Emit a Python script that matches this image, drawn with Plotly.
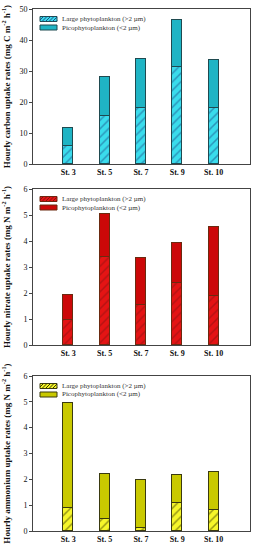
import plotly.graph_objects as go
from plotly.subplots import make_subplots

stations = ["St. 3", "St. 5", "St. 7", "St. 9", "St. 10"]

# carbon uptake (mg C m-2 h-1)
carbon_large = [5.9, 15.6, 18.2, 31.2, 18.2]
carbon_pico = [5.8, 12.4, 15.6, 15.1, 15.4]
# nitrate uptake (mg N m-2 h-1)
nitrate_large = [0.95, 3.37, 1.52, 2.37, 1.88]
nitrate_pico = [0.98, 1.67, 1.82, 1.55, 2.67]
# ammonium uptake (mg N m-2 h-1)
ammonium_large = [0.88, 0.46, 0.10, 1.07, 0.80]
ammonium_pico = [4.07, 1.74, 1.87, 1.08, 1.48]

lbl_large = "Large phytoplankton (>2 µm)"
lbl_pico = "Picophytoplankton (<2 µm)"

FONT = "Liberation Serif"
W, H = 256, 550
ML, MR, MT, MB = 33, 6, 9, 19
PW = W - ML - MR
PH = H - MT - MB

fig = make_subplots(rows=3, cols=1, vertical_spacing=0.05)

panels = [
    (carbon_large, carbon_pico, "#3adcec", "#1d4f8a", "#1fb4c4", "#1f4a50",
     "Hourly carbon uptake rates (mg C m<sup>-2</sup> h<sup>-1</sup>)", [0, 50], 10),
    (nitrate_large, nitrate_pico, "#e41414", "#8a1010", "#cc0808", "#6b2a10",
     "Hourly nitrate uptake rates (mg N m<sup>-2</sup> h<sup>-1</sup>)", [0, 6], 1),
    (ammonium_large, ammonium_pico, "#f6f62a", "#3a3a00", "#c9c900", "#3a3a10",
     "Hourly ammonium uptake rates (mg N m<sup>-2</sup> h<sup>-1</sup>)", [0, 6], 1),
]

# panel pixel extents (top, bottom) in figure px
pix = [(9, 164), (189, 345), (376, 531)]

for i, (large, pico, lc, hc, pc, oc, title, yr, dt) in enumerate(panels, start=1):
    fig.add_trace(go.Bar(
        x=list(range(len(stations))), y=large, name=lbl_large, width=0.28,
        marker=dict(color=lc, line=dict(color=oc, width=1),
                    pattern=dict(shape="/", fgcolor=hc, size=6, solidity=0.25)),
        showlegend=False,
    ), row=i, col=1)
    fig.add_trace(go.Bar(
        x=list(range(len(stations))), y=pico, name=lbl_pico, width=0.28,
        marker=dict(color=pc, line=dict(color=oc, width=1)),
        showlegend=False,
    ), row=i, col=1)
    fig.update_yaxes(row=i, col=1, range=yr, dtick=dt, showline=True, mirror=True,
                     linecolor="#444", linewidth=1, ticks="outside", ticklen=3,
                     tickcolor="#444", showgrid=False, zeroline=False, automargin=False,
                     tickfont=dict(family=FONT, size=8, color="#111"),
                     title=dict(text="<b>" + title + "</b>",
                                font=dict(family=FONT, size=9, color="#111")))
    fig.update_xaxes(row=i, col=1, range=[-0.97, 5.0], showline=True, mirror=True,
                     linecolor="#444", linewidth=1, showgrid=False, zeroline=False,
                     automargin=False,
                     tickmode="array", tickvals=list(range(len(stations))),
                     ticktext=["<b>" + s + "</b>" for s in stations],
                     tickfont=dict(family=FONT, size=8, color="#111"))

    # domain from pixel extents
    top, bot = pix[i - 1]
    key = "yaxis" if i == 1 else f"yaxis{i}"
    fig.layout[key].domain = [(H - MB - bot) / PH, (H - MB - top) / PH]

    # manual compact legend (px offsets inside the panel)
    ph = bot - top
    xr = f"x{'' if i == 1 else i} domain"
    yr_ = f"y{'' if i == 1 else i} domain"
    sx0, sx1 = 7, 24           # swatch px from plot left
    sh = 5                      # swatch height px
    rows = [(10, lc, True, lbl_large), (18.5, pc, False, lbl_pico)]
    for (cy, col, hatched, lbl) in rows:
        y0 = 1 - (cy + sh / 2) / ph
        y1 = 1 - (cy - sh / 2) / ph
        fig.add_shape(type="rect", xref=xr, yref=yr_, x0=sx0 / PW, x1=sx1 / PW,
                      y0=y0, y1=y1, fillcolor=col, line=dict(color=oc, width=1), layer="above")
        if hatched:
            path = ""
            step = 3.5
            k = -sh
            while k < (sx1 - sx0):
                ax, bx = k, k + sh
                ay, by = 0.0, sh
                if ax < 0:
                    ay = -ax; ax = 0
                if bx > sx1 - sx0:
                    by = sh - (bx - (sx1 - sx0)); bx = sx1 - sx0
                if bx > ax:
                    X0 = (sx0 + ax) / PW; X1 = (sx0 + bx) / PW
                    Y0 = y0 + ay / ph; Y1 = y0 + by / ph
                    path += f"M{X0:.5f},{Y0:.5f} L{X1:.5f},{Y1:.5f} "
                k += step
            fig.add_shape(type="path", xref=xr, yref=yr_, path=path,
                          line=dict(color=hc, width=1), layer="above")
        fig.add_annotation(xref=xr, yref=yr_, x=(sx1 + 3) / PW, y=1 - cy / ph,
                           text=lbl, showarrow=False, xanchor="left", yanchor="middle",
                           font=dict(family=FONT, size=7, color="#333"))

fig.update_layout(
    barmode="stack",
    width=W, height=H,
    margin=dict(l=ML, r=MR, t=MT, b=MB),
    paper_bgcolor="white", plot_bgcolor="white",
    showlegend=False,
    bargap=0,
)

fig.write_html("out.html",
               config={"displayModeBar": False},
               post_script="document.body.style.margin='0';document.body.style.padding='0';document.body.style.overflow='hidden';")
